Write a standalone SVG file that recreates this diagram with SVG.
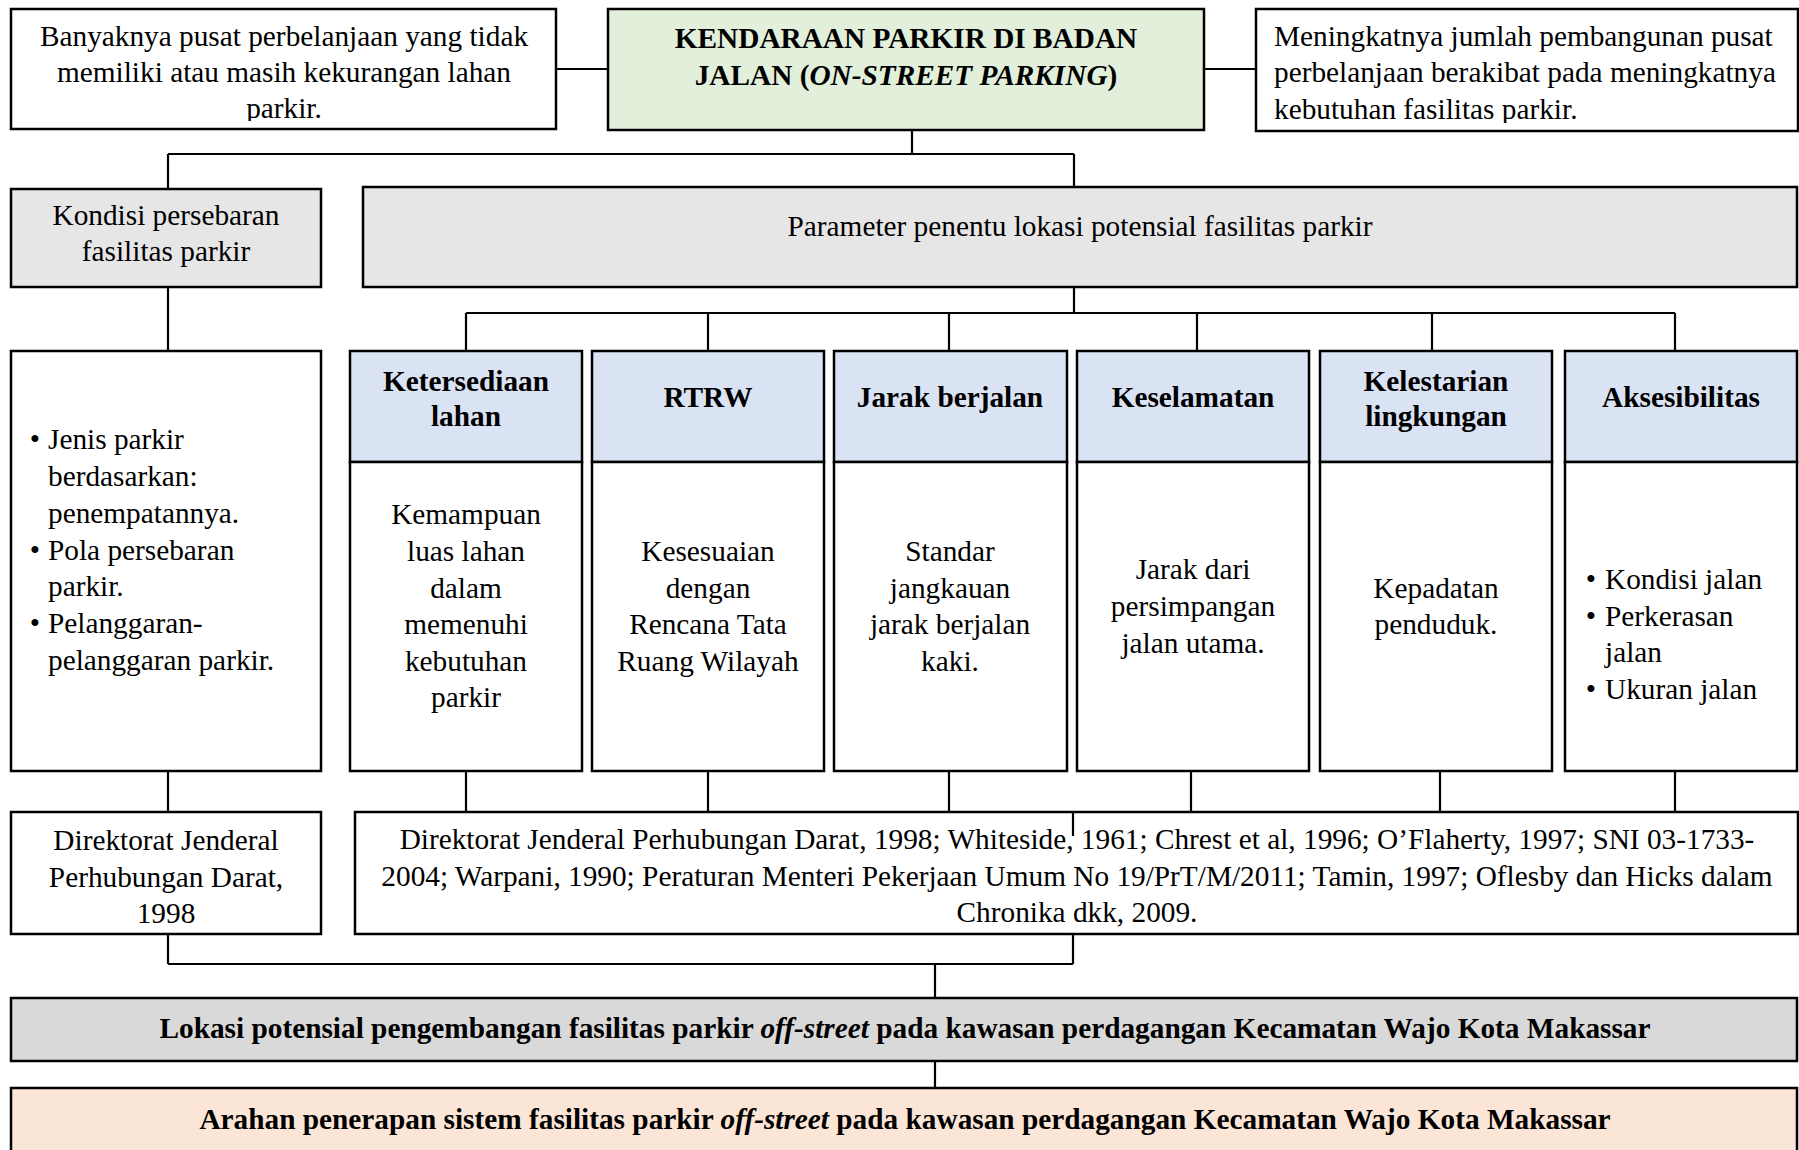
<svg xmlns="http://www.w3.org/2000/svg" width="1799" height="1150" viewBox="0 0 1799 1150">
<defs>
<style>
.box{stroke:#000;stroke-width:2.5}
.w{fill:#fff}
.g{fill:#e7e6e6}
.gr{fill:#e2efda}
.bl{fill:#dae3f3}
.lk{fill:#d9d9d9}
.ar{fill:#fbe5d6}
text{font-family:"Liberation Serif","Times New Roman",serif;font-size:29.3px;fill:#000}
.c{text-anchor:middle}
.b{font-weight:bold}
.i{font-style:italic}
.conn{stroke:#000;stroke-width:2.2;fill:none}
</style>
<clipPath id="clipTL"><rect x="11" y="9" width="546" height="112"/></clipPath>
<clipPath id="clipTR"><rect x="1256" y="9" width="543" height="114"/></clipPath>
</defs>
<rect width="1799" height="1150" fill="#fff"/>

<g id="node-top-left">
<rect class="box w" x="11" y="9" width="545" height="120"/>
<g clip-path="url(#clipTL)">
<text class="c" x="284" y="46">Banyaknya pusat perbelanjaan yang tidak</text>
<text class="c" x="284" y="82">memiliki atau masih kekurangan lahan</text>
<text class="c" x="284" y="118">parkir.</text>
</g>
</g>

<g id="node-main">
<rect class="box gr" x="608" y="9" width="596" height="121"/>
<text class="c b" x="906" y="48">KENDARAAN PARKIR DI BADAN</text>
<text class="c b" x="906" y="85">JALAN (<tspan class="i">ON-STREET PARKING</tspan>)</text>
</g>

<g id="node-top-right">
<rect class="box w" x="1256" y="9" width="542" height="122"/>
<g clip-path="url(#clipTR)">
<text x="1274" y="46">Meningkatnya jumlah pembangunan pusat</text>
<text x="1274" y="82">perbelanjaan berakibat pada meningkatnya</text>
<text x="1274" y="119">kebutuhan fasilitas parkir.</text>
</g>
</g>

<g id="node-kondisi">
<rect class="box g" x="11" y="189" width="310" height="98"/>
<text class="c" x="166" y="225">Kondisi persebaran</text>
<text class="c" x="166" y="261">fasilitas parkir</text>
</g>

<g id="node-parameter">
<rect class="box g" x="363" y="187" width="1434" height="100"/>
<text class="c" x="1080" y="236">Parameter penentu lokasi potensial fasilitas parkir</text>
</g>

<g id="node-jenis">
<rect class="box w" x="11" y="351" width="310" height="420"/>
<text class="c" x="35" y="449">•</text>
<text x="48" y="449">Jenis parkir</text>
<text x="48" y="486">berdasarkan:</text>
<text x="48" y="522.5">penempatannya.</text>
<text class="c" x="35" y="559.5">•</text>
<text x="48" y="559.5">Pola persebaran</text>
<text x="48" y="596">parkir.</text>
<text class="c" x="35" y="633">•</text>
<text x="48" y="633">Pelanggaran-</text>
<text x="48" y="670">pelanggaran parkir.</text>
</g>

<g id="node-ketersediaan">
<rect class="box bl" x="350" y="351" width="232" height="111"/>
<rect class="box w" x="350" y="462" width="232" height="309"/>
<text class="c b" x="466" y="391">Ketersediaan</text>
<text class="c b" x="466" y="426">lahan</text>
<text class="c" x="466" y="524">Kemampuan</text>
<text class="c" x="466" y="561">luas lahan</text>
<text class="c" x="466" y="597.5">dalam</text>
<text class="c" x="466" y="634">memenuhi</text>
<text class="c" x="466" y="670.5">kebutuhan</text>
<text class="c" x="466" y="707">parkir</text>
</g>

<g id="node-rtrw">
<rect class="box bl" x="592" y="351" width="232" height="111"/>
<rect class="box w" x="592" y="462" width="232" height="309"/>
<text class="c b" x="708" y="407">RTRW</text>
<text class="c" x="708" y="561">Kesesuaian</text>
<text class="c" x="708" y="597.5">dengan</text>
<text class="c" x="708" y="634">Rencana Tata</text>
<text class="c" x="708" y="670.5">Ruang Wilayah</text>
</g>

<g id="node-jarak">
<rect class="box bl" x="834" y="351" width="233" height="111"/>
<rect class="box w" x="834" y="462" width="233" height="309"/>
<text class="c b" x="950" y="407">Jarak berjalan</text>
<text class="c" x="950" y="561">Standar</text>
<text class="c" x="950" y="597.5">jangkauan</text>
<text class="c" x="950" y="634">jarak berjalan</text>
<text class="c" x="950" y="670.5">kaki.</text>
</g>

<g id="node-keselamatan">
<rect class="box bl" x="1077" y="351" width="232" height="111"/>
<rect class="box w" x="1077" y="462" width="232" height="309"/>
<text class="c b" x="1193" y="407">Keselamatan</text>
<text class="c" x="1193" y="579">Jarak dari</text>
<text class="c" x="1193" y="616">persimpangan</text>
<text class="c" x="1193" y="652.5">jalan utama.</text>
</g>

<g id="node-kelestarian">
<rect class="box bl" x="1320" y="351" width="232" height="111"/>
<rect class="box w" x="1320" y="462" width="232" height="309"/>
<text class="c b" x="1436" y="391">Kelestarian</text>
<text class="c b" x="1436" y="426">lingkungan</text>
<text class="c" x="1436" y="597.5">Kepadatan</text>
<text class="c" x="1436" y="634">penduduk.</text>
</g>

<g id="node-aksesibilitas">
<rect class="box bl" x="1565" y="351" width="232" height="111"/>
<rect class="box w" x="1565" y="462" width="232" height="309"/>
<text class="c b" x="1681" y="407">Aksesibilitas</text>
<text class="c" x="1591" y="589">•</text>
<text x="1605" y="589">Kondisi jalan</text>
<text class="c" x="1591" y="625.5">•</text>
<text x="1605" y="625.5">Perkerasan</text>
<text x="1605" y="662">jalan</text>
<text class="c" x="1591" y="699">•</text>
<text x="1605" y="699">Ukuran jalan</text>
</g>

<g id="node-ref-left">
<rect class="box w" x="11" y="812" width="310" height="122"/>
<text class="c" x="166" y="850">Direktorat Jenderal</text>
<text class="c" x="166" y="886.5">Perhubungan Darat,</text>
<text class="c" x="166" y="923">1998</text>
</g>

<g id="node-ref-right">
<rect class="box w" x="355" y="812" width="1443" height="122"/>
<text class="c" x="1077" y="849">Direktorat Jenderal Perhubungan Darat, 1998; Whiteside, 1961; Chrest et al, 1996; O’Flaherty, 1997; SNI 03-1733-</text>
<text class="c" x="1077" y="886">2004; Warpani, 1990; Peraturan Menteri Pekerjaan Umum No 19/PrT/M/2011; Tamin, 1997; Oflesby dan Hicks dalam</text>
<text class="c" x="1077" y="922">Chronika dkk, 2009.</text>
</g>

<g id="node-lokasi">
<rect class="box lk" x="11" y="998" width="1786" height="63"/>
<text class="c b" x="905" y="1038">Lokasi potensial pengembangan fasilitas parkir <tspan class="i">off-street</tspan> pada kawasan perdagangan Kecamatan Wajo Kota Makassar</text>
</g>

<g id="node-arahan">
<rect class="box ar" x="11" y="1088" width="1786" height="66"/>
<text class="c b" x="905" y="1129">Arahan penerapan sistem fasilitas parkir <tspan class="i">off-street</tspan> pada kawasan perdagangan Kecamatan Wajo Kota Makassar</text>
</g>

<g id="connectors" class="conn">
<path d="M556 69 H608 M1204 69 H1256"/>
<path d="M912 130 V154 M168 154 H1074 M168 154 V189 M1074 154 V187"/>
<path d="M168 287 V351"/>
<path d="M1074 287 V313 M466 313 H1675 M466 313 V351 M708 313 V351 M949 313 V351 M1197 313 V351 M1432 313 V351 M1675 313 V351"/>
<path d="M168 771 V812"/>
<path d="M466 771 V812 M708 771 V812 M949 771 V812 M1191 771 V812 M1440 771 V812 M1675 771 V812 M466 812 H1675"/>
<path d="M1073 812 V836"/>
<path d="M168 934 V964 M1073 934 V964 M168 964 H1073 M935 964 V998"/>
<path d="M935 1061 V1088"/>
</g>
</svg>
